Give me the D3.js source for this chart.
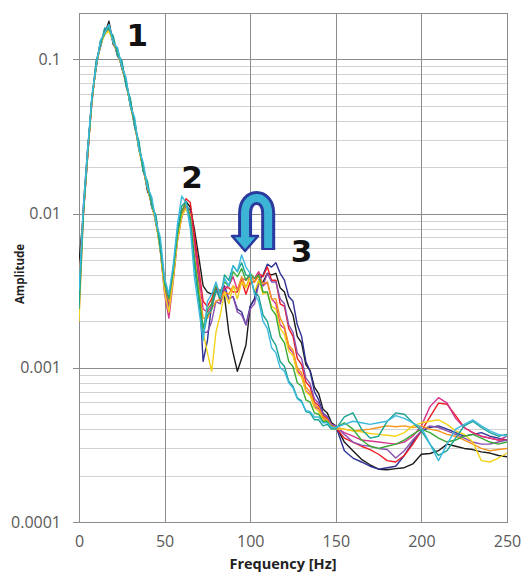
<!DOCTYPE html>
<html><head><meta charset="utf-8">
<script src="https://cdn.jsdelivr.net/npm/d3@7"></script>
<style>body{margin:0;background:#fff;} svg{display:block;}</style>
</head><body><svg id="c" width="522" height="574"></svg>
<script>
// Frequency samples [Hz]
const freq=[0,2.5,5,7.5,10,12.5,15,17.5,20,22.5,25,27.5,30,32.5,35,37.5,40,42.5,45,47.5,50,52.5,55,57.5,60,62.5,
65,67.5,70,72.5,75,77.5,80,82.5,85,87.5,90,92.5,95,97.5,100,102.5,105,107.5,110,112.5,115,117.5,120,122.5,125,127.5,130,132.5,135,137.5,140,142.5,145,147.5,150,
155,160,165,170,175,180,185,190,195,200,205,210,215,220,225,230,235,240,245,250];
// Amplitudes, in units of 1e-4
const AMP_UNIT=1e-4;
const ampBlack=[48,98,230,560,880,1300,1450,1770,1250,1150,880,720,500,400,260,200,140,120,85,62,33,28,38,75,95,120,
110,78,52,34,31,30,31,31,29,17,12.5,9.5,11.5,14,25,28,36,36,41,40,41,33,31,25,22,16,14.5,10.5,9.6,7.5,6.8,5.4,5.1,4.4,4.2,
3.3,2.9,2.55,2.35,2.2,2.18,2.22,2.25,2.38,2.75,2.78,2.9,3.2,3.1,3.0,2.95,2.85,2.8,2.7,2.65];
const ampNavy=[25,110,260,520,950,1200,1550,1580,1350,1050,950,680,540,370,280,190,155,110,92,58,32,26,42,68,105,112,
105,68,36,11,15,26,33,29,34,28,29,24,23,19,25,28,37,40,47,45,48,41,37,29,27,19,16,11,9.5,7,6.2,5.1,4.8,4.3,4.2,
2.9,2.6,2.45,2.3,2.2,2.25,2.3,2.7,3.3,3.9,4.1,4.2,4.0,3.8,3.6,3.7,3.8,3.6,3.5,3.4];
const ampRed=[35,100,240,550,900,1280,1480,1620,1280,1120,900,710,530,390,265,200,145,118,88,62,36,25,38,72,98,125,
118,72,44,27,25,28,34,27,33,33,31,31,37,30,36,36,41,39,45,37,37,26,25,18,16,11.5,10.5,8.1,7.5,6,5.7,4.9,4.7,4.2,4.1,
3.5,3.3,3.1,2.95,2.75,2.5,2.45,2.7,3.2,3.9,4.8,5.9,5.8,4.9,4.1,3.8,3.6,3.5,3.4,3.4];
const ampMagenta=[22,95,235,530,940,1220,1530,1550,1320,1080,940,690,510,370,275,190,150,112,90,58,30,21,36,66,95,110,
100,60,40,24,23,25,31,32,33,34,39,32,38,37,40,38,42,34,36,28,26,19,18,13.5,12.5,9.6,8.9,7.1,6.7,5.6,5.4,4.7,4.6,4.2,4.1,
3.8,3.6,3.4,3.35,3.3,3.25,3.2,3.3,3.6,4.2,5.6,6.4,5.9,4.7,4.1,3.8,3.6,3.5,3.4,3.6];
const ampPurple=[28,102,245,535,910,1260,1510,1590,1290,1090,910,705,515,385,268,198,148,116,89,61,34,24,39,69,99,113,
95,48,29,17,17,20,27,26,32,28,29,23,22,19,24,26,35,34,41,36,36,28,26,19,17,12.5,11.5,8.6,7.9,6.3,5.9,5,4.8,4.3,4.2,
3.7,3.3,3.15,3.1,3.0,2.95,2.6,2.9,3.4,3.9,4.2,4.1,3.9,3.7,3.5,3.3,3.2,3.2,3.3,3.4];
const ampOrange=[33,104,238,545,925,1240,1490,1560,1310,1105,925,695,525,378,272,196,152,114,91,59,36,27,41,71,101,116,
98,52,33,21,21,24,27,28,31,30,34,32,39,33,40,36,39,35,36,28,28,21,18.5,14,13,10,9.3,7.5,7,5.8,5.5,4.8,4.6,4.2,4.1,
4.0,3.9,3.95,4.0,4.1,4.2,4.15,4.2,4.1,4.2,4.0,3.9,3.7,3.6,3.4,3.2,3.0,2.9,2.95,3.0];
const ampYellow=[20,96,242,528,915,1230,1460,1520,1300,1090,905,700,505,382,262,192,147,113,87,57,31,23,37,67,96,108,
90,48,31,17,12.5,9.5,17,22,31,26,34,28,36,33,38,31,37,30,31,25,24,18,16.5,12.8,12,9.3,8.7,7,6.6,5.5,5.2,4.6,4.5,4.1,4.0,
4.0,3.9,3.85,3.75,3.7,3.65,3.6,3.8,4.2,4.4,4.5,4.6,4.3,3.9,3.7,3.3,2.5,2.45,2.6,2.8];
const ampGreen=[26,100,248,560,910,1300,1470,1640,1290,1160,900,740,500,400,265,205,147,121,89,64,35,28,42,73,104,118,
92,50,30,18,24,26,34,31,36,34,42,39,44,37,41,38,40,31,31,24,22,16,14.5,11,10.2,8,7.6,6.2,6,5.1,5,4.5,4.5,4.1,4.1,
4.4,4.0,3.4,3.1,3.0,3.1,3.2,3.4,3.7,4.0,3.8,3.5,3.3,3.4,3.6,3.7,3.5,3.3,3.2,3.3];
const ampTeal=[24,99,252,540,980,1220,1600,1560,1420,1060,990,670,560,365,295,188,162,112,97,58,37,29,44,78,112,120,
90,45,27,16,22,24,32,28,40,37,46,42,48,40,39,31,29,22,20,15.5,14,11,10.2,8.2,7.6,6.4,6.1,5.2,5.1,4.6,4.6,4.2,4.3,4,4.0,
4.8,5.1,4.0,3.5,3.6,4.5,5.1,5.0,4.4,3.9,3.2,2.7,2.9,3.5,4.2,4.5,4.1,3.8,3.6,3.7];
const ampCyan=[32,108,255,580,900,1330,1480,1690,1280,1190,900,760,500,420,262,215,148,128,88,70,38,30,46,85,130,118,
80,38,24,15,27,30,36,29,38,34,46,42,54,45,41,30,27,20,18,13.5,12.5,10,9.5,8,7.4,6.3,6,5.3,5.2,4.8,4.8,4.4,4.4,4.1,4.1,
4.3,4.5,4.4,4.3,4.4,4.5,4.9,4.7,4.4,4.1,3.2,2.5,3.2,4.0,4.3,4.6,4.2,3.9,3.7,3.6];

const seriesValues=[ampBlack,ampNavy,ampRed,ampMagenta,ampPurple,ampOrange,ampYellow,ampGreen,ampTeal,ampCyan];
const seriesColors=["#1a1a1a","#2e3192","#ed1c24","#d6338a","#8b4fb0","#f7941d","#f2d31b","#3aaa35","#1aa392","#3cb9e0"];

const xTicks=[0,50,100,150,200,250];
const yTicks=[0.0001,0.001,0.01,0.1];
const yTickLabels=["0.0001","0.001","0.01","0.1"];
const peakLabels=["1","2","3"];
const peakFreq=[34,66,130];
const peakAmp=[0.1215,0.0147,0.00488];
const xTitle="Frequency [Hz]";
const yTitle="Amplitude";

const svg=d3.select("#c");
const L=79,R=507,T=13,B=522;
const x=d3.scaleLinear().domain([0,250]).range([L,R]);
const y=d3.scaleLog().domain([0.0001,0.2]).range([B,T]);

// minor grid
const minor=[];
[0.0001,0.001,0.01].forEach(d=>{for(let k=2;k<=9;k++)minor.push(d*k);});
svg.append("g").attr("transform",`translate(${L},0)`)
  .call(d3.axisLeft(y).tickValues(minor).tickSize(-(R-L)).tickFormat(""))
  .call(g=>g.select(".domain").remove())
  .call(g=>g.selectAll("line").attr("stroke","#d2d2d2").attr("stroke-width",1).attr("shape-rendering","crispEdges"));
// major horizontal grid
svg.append("g").attr("transform",`translate(${L},0)`)
  .call(d3.axisLeft(y).tickValues(yTicks).tickSize(-(R-L)).tickFormat(""))
  .call(g=>g.select(".domain").remove())
  .call(g=>g.selectAll("line").attr("stroke","#8c8c8c").attr("stroke-width",1).attr("shape-rendering","crispEdges"));
// vertical grid
svg.append("g").attr("transform",`translate(0,${B})`)
  .call(d3.axisBottom(x).tickValues(xTicks).tickSize(-(B-T)).tickFormat(""))
  .call(g=>g.select(".domain").remove())
  .call(g=>g.selectAll("line").attr("stroke","#8c8c8c").attr("stroke-width",1).attr("shape-rendering","crispEdges"));
// frame
svg.append("rect").attr("x",L).attr("y",T).attr("width",R-L).attr("height",B-T)
  .attr("fill","none").attr("stroke","#8c8c8c").attr("shape-rendering","crispEdges");

// y axis ticks + labels
svg.append("g").attr("transform",`translate(${L},0)`)
  .call(d3.axisLeft(y).tickValues(yTicks).tickSize(6).tickPadding(12).tickFormat((d,i)=>yTickLabels[i]))
  .call(g=>g.select(".domain").remove())
  .call(g=>g.selectAll("line").attr("stroke","#8c8c8c").attr("shape-rendering","crispEdges"))
  .call(g=>g.selectAll("text").attr("font-family","'Open Sans'").attr("font-size",16).attr("fill","#5a5a5a"));
// x labels
svg.append("g").attr("transform",`translate(0,${B})`)
  .call(d3.axisBottom(x).tickValues(xTicks).tickSize(0).tickPadding(14).tickFormat(d3.format("d")))
  .call(g=>g.select(".domain").remove())
  .call(g=>g.selectAll("text").attr("font-family","'Open Sans'").attr("font-size",16).attr("fill","#5a5a5a"));

// axis titles
svg.append("text").attr("x",283).attr("y",569).attr("text-anchor","middle")
  .attr("font-family","'Open Sans'").attr("font-weight","bold").attr("font-size",14.5).attr("fill","#222").text(xTitle);
svg.append("text").attr("transform","translate(24,274) rotate(-90)").attr("text-anchor","middle")
  .attr("font-family","'Open Sans'").attr("font-weight","bold").attr("font-size",11.5).attr("fill","#222").text(yTitle);

// series lines
const line=d3.line().x((d,i)=>x(freq[i])).y(d=>y(d*AMP_UNIT));
svg.append("clipPath").attr("id","pc").append("rect").attr("x",L).attr("y",T).attr("width",R-L).attr("height",B-T);
const lg=svg.append("g").attr("clip-path","url(#pc)");
seriesValues.forEach((vals,si)=>{
  lg.append("path").datum(vals).attr("d",line).attr("fill","none")
    .attr("stroke",seriesColors[si]).attr("stroke-width",1.4).attr("stroke-linejoin","round");
});

// peak labels
peakLabels.forEach((t,i)=>{
  svg.append("text").attr("x",x(peakFreq[i])).attr("y",y(peakAmp[i])).attr("text-anchor","middle")
    .attr("font-family","'DejaVu Sans'").attr("font-weight","bold").attr("font-size",31).attr("fill","#111").text(t);
});

// curved arrow
const ax0=x(97), ax1=x(110.5);
svg.append("path").attr("d",`M${ax0},236 L${ax0},213 C${ax0},193 ${ax1},193 ${ax1},213 L${ax1},250`)
  .attr("fill","none").attr("stroke","#2b3a9e").attr("stroke-width",14);
svg.append("path").attr("d",`M${ax0-13},236 L${ax0+13},236 L${ax0},251 Z`).attr("fill","#3db4d6").attr("stroke","#2b3a9e").attr("stroke-width",2.5).attr("stroke-linejoin","round");
svg.append("path").attr("d",`M${ax0},238 L${ax0},213 C${ax0},193 ${ax1},193 ${ax1},213 L${ax1},248`)
  .attr("fill","none").attr("stroke","#3db4d6").attr("stroke-width",8);
</script></body></html>
